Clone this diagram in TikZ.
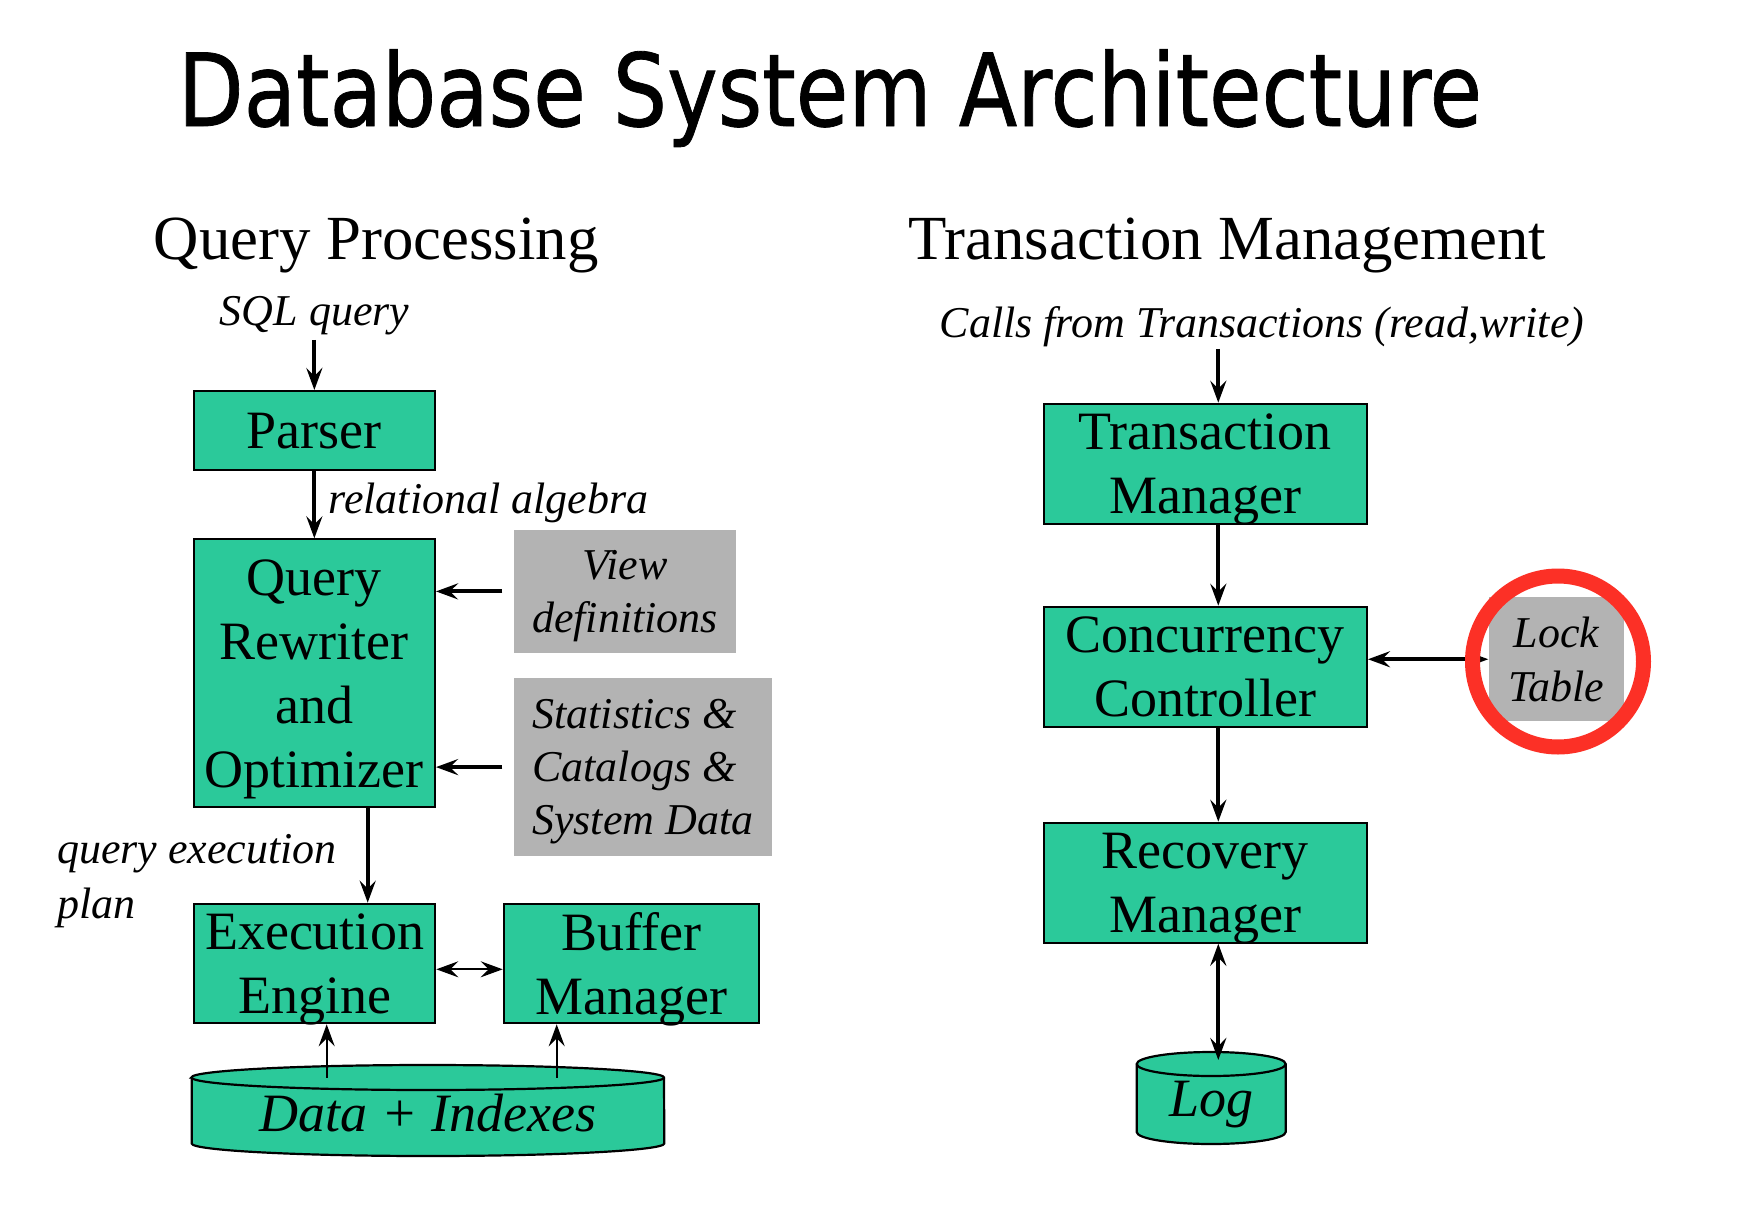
\documentclass[tikz,border=0pt]{standalone}
\usepackage{fontspec}
\setmainfont{Liberation Serif}
\newfontfamily\titlefont{DejaVu Sans}[FakeBold=0.8]
\usepackage{graphicx}
\usetikzlibrary{arrows.meta}
\definecolor{boxgreen}{RGB}{43,201,154}
\definecolor{boxgray}{RGB}{179,179,179}
\definecolor{ringred}{RGB}{252,48,38}
\tikzset{
  box/.style={draw=black, line width=1pt, fill=boxgreen, anchor=north west, inner sep=0pt,
    align=center, font=\fontsize{27}{32}\selectfont, text depth=0pt},
  graybox/.style={fill=boxgray, anchor=north west, inner sep=0pt, align=center,
    font=\fontsize{22}{26.6}\selectfont\itshape, text depth=0pt},
  lbl/.style={inner sep=0pt, font=\fontsize{22}{27.5}\selectfont\itshape},
  arr/.style={line width=2pt, -{Stealth[length=11pt,width=8pt,inset=4pt]}},
  darr/.style={line width=2pt, {Stealth[length=11pt,width=8pt,inset=4pt]}-{Stealth[length=11pt,width=8pt,inset=4pt]}},
  thinarr/.style={line width=1.1pt, -{Stealth[length=11pt,width=8pt,inset=4pt]}},
  thindarr/.style={line width=1.1pt, {Stealth[length=11pt,width=8pt,inset=4pt]}-{Stealth[length=11pt,width=8pt,inset=4pt]}},
  cyl/.style={fill=boxgreen, draw=black, line width=1.1pt},
  ring/.style={draw=ringred, line width=7.5pt}
}
\begin{document}
\begin{tikzpicture}[x=0.5pt,y=-0.5pt]
\useasboundingbox (0,0) rectangle (1758,1232);
\fill[white] (0,0) rectangle (1758,1232);

% title and headers
\node[anchor=base, inner sep=0pt] (title) at (830,126)
  {\resizebox{652pt}{38.3pt}{\titlefont Database System Architecture}};
\node[anchor=base west, inner sep=0pt, font=\fontsize{31.4}{36}\selectfont] (qph) at (153.3,259.3) {Query Processing};
\node[anchor=base west, inner sep=0pt, font=\fontsize{31.4}{36}\selectfont] (tmh) at (908.2,259.3) {Transaction Management};

% ---------- Query processing ----------
\node[lbl, anchor=base] (sql) at (314.5,325) {SQL query};
\node[box, minimum width=120.65pt, minimum height=39.5pt] (parser) at (192.7,390) {Parser};
\node[lbl, anchor=base west] (relalg) at (328.3,513.3) {relational algebra};
\node[box, minimum width=120.65pt, minimum height=133.85pt] (qr) at (192.7,538.3) {Query\\Rewriter\\and\\Optimizer};
\node[graybox, minimum width=111.35pt, minimum height=61.7pt] (view) at (513.3,529.3) {View\\definitions};
\node[graybox, align=left, minimum width=129.2pt, minimum height=89pt] (stats) at (513.3,677.7) {Statistics \&\\Catalogs \&\\System Data};
\node[lbl, anchor=base west] (qep) at (56.7,863.3) {\begin{tabular}[t]{@{}l@{}}query execution\\plan\end{tabular}};
\node[box, minimum width=120.8pt, minimum height=59.8pt] (ee) at (192.7,902.7) {Execution\\Engine};
\node[box, minimum width=127.8pt, minimum height=59.8pt] (bm) at (502.7,902.7) {Buffer\\Manager};

% Data + Indexes cylinder
\path[cyl] (191.7,1077.5) -- (191.7,1143.5)
  arc[start angle=180, end angle=360, x radius=118.15pt, y radius=6.25pt]
  -- (664,1077.5)
  arc[start angle=0, end angle=180, x radius=118.15pt, y radius=6.25pt] -- cycle;
\draw[line width=1.1pt] (191.7,1077.5) arc[start angle=180, end angle=360, x radius=118.15pt, y radius=6.25pt];
\node[lbl, font=\fontsize{27}{32}\selectfont\itshape, anchor=base] (data) at (427.9,1131.7) {Data + Indexes};
\coordinate (dA) at (326.7,1077.5);
\coordinate (dB) at (556.7,1077.5);

% arrows left
\coordinate (lx) at (367.7,0);
\coordinate (ly) at (0,969.3);
\draw[arr] ([yshift=-2.5pt]sql.south -| parser.north) -- (parser.north);
\draw[arr] (parser) -- (qr);
\draw[arr] ([xshift=-5.5pt]view.west) -- (view.west -| qr.east);
\draw[arr] ([xshift=-5.5pt]stats.west) -- (stats.west -| qr.east);
\draw[arr] (lx |- qr.south) -- (lx |- ee.north);
\draw[thindarr] (ee.east |- ly) -- (bm.west |- ly);
\draw[thinarr] (dA) -- (dA |- ee.south);
\draw[thinarr] (dB) -- (dB |- bm.south);

% ---------- Transaction management ----------
\node[lbl, anchor=base] (calls) at (1262,337) {Calls from Transactions (read,write)};
\node[box, minimum width=161.65pt, minimum height=60.3pt] (tm) at (1042.7,402.7) {Transaction\\Manager};
\node[box, minimum width=161.65pt, minimum height=60pt] (cc) at (1042.7,605.7) {Concurrency\\Controller};
\node[box, minimum width=161.65pt, minimum height=60pt] (rm) at (1042.7,821.7) {Recovery\\Manager};
\node[graybox, minimum width=67.6pt, minimum height=61.85pt] (lock) at (1488.3,597) {Lock\\Table};

% Log cylinder
\path[cyl] (1136.7,1064) -- (1136.7,1132)
  arc[start angle=180, end angle=360, x radius=37.25pt, y radius=6pt]
  -- (1285.7,1064)
  arc[start angle=0, end angle=180, x radius=37.25pt, y radius=6pt] -- cycle;
\draw[line width=1.1pt] (1136.7,1064) arc[start angle=180, end angle=360, x radius=37.25pt, y radius=6pt];
\node[lbl, font=\fontsize{27}{32}\selectfont\itshape, anchor=base] (log) at (1211.2,1116.8) {Log};
\coordinate (logtop) at (1218.3,1060);

% arrows right
\coordinate (rx) at (1218.3,0);
\draw[arr] ([yshift=-1pt]calls.south -| rx) -- (rx |- tm.north);
\draw[arr] (rx |- tm.south) -- (rx |- cc.north);
\draw[arr] (rx |- cc.south) -- (rx |- rm.north);
\draw[darr] (rx |- rm.south) -- (logtop);
\draw[darr] (lock.west) -- (lock.west -| cc.east);

% highlight ring
\draw[ring] (1558,661.5) circle[radius=42.75pt];
\end{tikzpicture}
\end{document}
